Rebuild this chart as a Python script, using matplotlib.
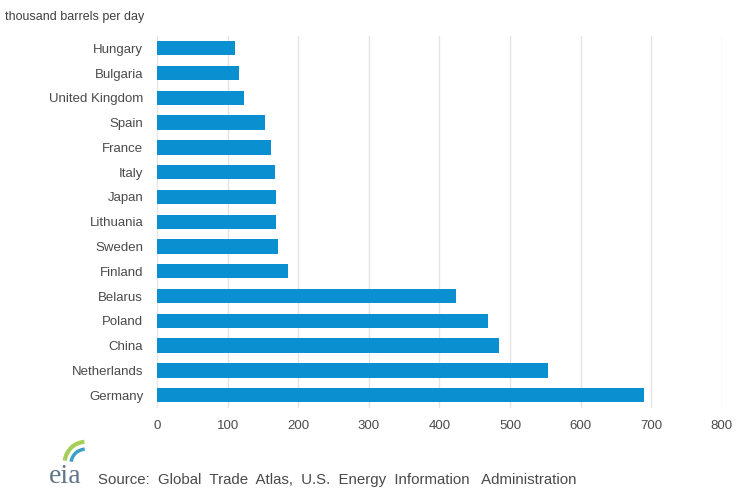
import numpy as np
import matplotlib
matplotlib.use("Agg")
import matplotlib.pyplot as plt
from matplotlib.patches import Arc

countries = ["Hungary", "Bulgaria", "United Kingdom", "Spain", "France", "Italy",
             "Japan", "Lithuania", "Sweden", "Finland", "Belarus", "Poland",
             "China", "Netherlands", "Germany"]
values = [110, 116, 123, 153, 161, 167, 168, 168, 171, 186, 423, 469, 485, 554, 690]
xticks = [0, 100, 200, 300, 400, 500, 600, 700, 800]

plt.rcParams['font.family'] = ['Liberation Sans', 'DejaVu Sans']

fig = plt.figure(figsize=(7.41, 4.91), dpi=100)
ax = fig.add_axes([0.212, 0.170, 0.762, 0.757])

y = np.arange(len(countries))
ax.barh(y, values, height=0.58, color="#0a8fd1", zorder=3)
ax.set_ylim(len(countries) - 0.5, -0.5)
ax.set_xlim(0, 800)
ax.set_xticks(xticks)
ax.set_xticklabels([str(t) for t in xticks], fontsize=9.5, color="#4a4a4a")
ax.set_yticks(y)
ax.set_yticklabels(countries, fontsize=9.5, color="#4a4a4a")
ax.tick_params(length=0, pad=10)
ax.tick_params(axis="x", pad=9)
ax.grid(axis="x", color="#e4e4e4", linewidth=1, zorder=0)
for s in ax.spines.values():
    s.set_visible(False)

fig.text(0.007, 0.965, "thousand barrels per day", fontsize=9, color="#404040", va="center")

# source line with a small eia mark
fig.text(0.132, 0.022, "Source:  Global  Trade  Atlas,  U.S.  Energy  Information   Administration",
         fontsize=10.8, color="#4a4a4a", va="center")
fig.text(0.066, 0.004, "eia", fontsize=20, color="#5f7488", family="Liberation Serif",
         va="bottom")
logo = fig.add_axes([0.08, 0.055, 0.035, 0.05])
logo.set_xlim(0, 1)
logo.set_ylim(0, 1)
logo.axis("off")
logo.add_patch(Arc((1.0, 0.0), 1.6, 1.8, theta1=92, theta2=170, color="#a6cf5a", lw=3))
logo.add_patch(Arc((1.0, 0.0), 1.1, 1.2, theta1=92, theta2=170, color="#3aa0c8", lw=2.5))

fig.savefig("out.png", dpi=100, facecolor="white")
